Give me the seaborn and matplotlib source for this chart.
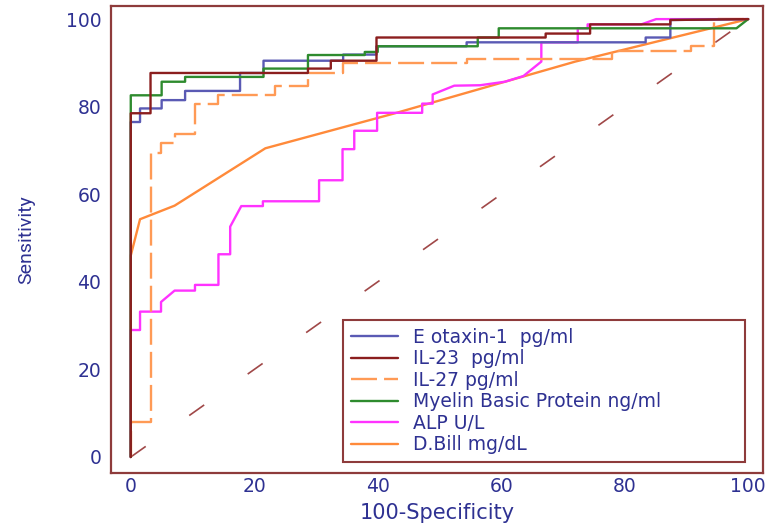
import matplotlib
matplotlib.use("Agg")
import matplotlib.pyplot as plt
from matplotlib.ticker import MultipleLocator
import seaborn as sns
import pandas as pd

# ---- data ----
eotaxin_x = [0, 0, 1.5, 1.5, 5.0, 5.0, 8.8, 8.8, 17.7, 17.7, 21.5, 21.5, 34.4, 34.4, 39.8, 39.8, 54.4, 54.4, 83.4, 83.4, 87.4, 87.4, 100]
eotaxin_y = [0, 76.5, 76.5, 79.6, 79.6, 81.5, 81.5, 83.6, 83.6, 87.7, 87.7, 90.5, 90.5, 91.9, 91.9, 93.8, 93.8, 94.7, 94.7, 95.8, 95.8, 99.8, 100]

il23_x = [0, 0, 3.2, 3.2, 28.7, 28.7, 32.4, 32.4, 39.8, 39.8, 67.2, 67.2, 74.4, 74.4, 87.4, 87.4, 100]
il23_y = [0, 78.5, 78.5, 87.7, 87.7, 88.7, 88.7, 90.5, 90.5, 95.8, 95.8, 96.7, 96.7, 98.8, 98.8, 99.8, 100]

il27_x = [0, 0, 3.3, 3.3, 4.9, 4.9, 7.2, 7.2, 10.4, 10.4, 14.2, 14.2, 23.4, 23.4, 28.7, 28.7, 34.4, 34.4, 54.4, 54.4, 77.9, 77.9, 90.7, 90.7, 94.5, 94.5, 100]
il27_y = [0, 8, 8, 69.4, 69.4, 71.7, 71.7, 73.7, 73.7, 80.6, 80.6, 82.6, 82.6, 84.7, 84.7, 87.8, 87.8, 89.9, 89.9, 90.8, 90.8, 92.7, 92.7, 93.8, 93.8, 100, 100]

mbp_x = [0, 0, 5.0, 5.0, 8.8, 8.8, 21.5, 21.5, 28.7, 28.7, 37.9, 37.9, 40.0, 40.0, 56.2, 56.2, 59.6, 59.6, 98.1, 100]
mbp_y = [0, 82.6, 82.6, 85.7, 85.7, 86.8, 86.8, 88.7, 88.7, 91.8, 91.8, 92.5, 92.5, 93.8, 93.8, 95.8, 95.8, 97.9, 97.9, 100]

alp_x = [0, 0, 1.5, 1.5, 4.9, 4.9, 7.1, 10.4, 10.4, 14.2, 14.2, 16.1, 16.1, 17.9, 21.4, 21.4, 30.5, 30.5, 34.3, 34.3,
         36.2, 36.2, 39.9, 39.9, 47.2, 47.2, 48.9, 48.9, 52.4, 56.6, 60.6, 63.6, 66.5, 66.5, 72.4, 72.4, 74.0, 74.0, 82.7, 85.1, 100]
alp_y = [0, 29, 29, 33.2, 33.2, 35.4, 38, 38, 39.3, 39.3, 46.3, 46.3, 52.6, 57.3, 57.3, 58.4, 58.4, 63.2, 63.2, 70.3,
         70.3, 74.5, 74.5, 78.6, 78.6, 80.7, 80.7, 82.8, 84.8, 84.9, 85.7, 87, 90.3, 94.7, 94.7, 97.9, 97.9, 98.8, 98.8, 100, 100]

dbill_x = [0, 0, 1.5, 7.1, 21.8, 42.8, 72.0, 100]
dbill_y = [0, 46, 54.3, 57.4, 70.5, 78.5, 90.3, 100]

diag_x = [0, 100]
diag_y = [0, 100]

labels = ["E otaxin-1  pg/ml", "IL-23  pg/ml", "IL-27 pg/ml", "Myelin Basic Protein ng/ml", "ALP U/L", "D.Bill mg/dL"]
x_ticks = [0, 20, 40, 60, 80, 100]
y_ticks = [0, 20, 40, 60, 80, 100]

# ---- style ----
sns.set_style("white")
plt.rcParams["font.family"] = ["DejaVu Sans"]

SPINE = "#8E3B3B"
TEXT = "#2E3192"
colors = {
    "eot": "#5A5AB4",
    "il23": "#8B1E1E",
    "il27": "#FF9A55",
    "mbp": "#2E8B2E",
    "alp": "#FF33FF",
    "dbill": "#FF8A3A",
}

fig = plt.figure(figsize=(7.72, 5.29), dpi=100)
ax = fig.add_axes([0.1438, 0.1059, 0.8445, 0.8828])

sns.lineplot(x=diag_x, y=diag_y, ax=ax, color="#A04848", lw=1.2, sort=False, estimator=None,
             linestyle=(0, (11, 32)))

series = [
    (dbill_x, dbill_y, colors["dbill"], labels[5], "-"),
    (alp_x, alp_y, colors["alp"], labels[4], "-"),
    (il27_x, il27_y, colors["il27"], labels[2], (0, (11, 3))),
    (eotaxin_x, eotaxin_y, colors["eot"], labels[0], "-"),
    (mbp_x, mbp_y, colors["mbp"], labels[3], "-"),
    (il23_x, il23_y, colors["il23"], labels[1], "-"),
]
for xs, ys, c, lab, ls in series:
    df = pd.DataFrame({"x": xs, "y": ys})
    sns.lineplot(data=df, x="x", y="y", ax=ax, color=c, lw=1.7, sort=False, estimator=None,
                 linestyle=ls, label=lab)

ax.set_xlim(-3.2, 102.4)
ax.set_ylim(-3.65, 103.0)
ax.set_xticks(x_ticks)
ax.set_yticks(y_ticks)
ax.xaxis.set_minor_locator(MultipleLocator(5))
ax.yaxis.set_minor_locator(MultipleLocator(5))

for s in ax.spines.values():
    s.set_color(SPINE)
    s.set_linewidth(1.6)

ax.tick_params(axis="y", which="major", direction="in", length=12.5, width=1.3, color=SPINE,
               labelsize=13.5, labelcolor=TEXT, pad=7)
ax.tick_params(axis="y", which="minor", direction="in", length=7, width=1.3, color=SPINE)
ax.tick_params(axis="x", which="major", direction="in", length=7.5, width=1.3, color=SPINE,
               labelsize=13.5, labelcolor=TEXT, pad=3)
ax.tick_params(axis="x", which="minor", direction="in", length=4.5, width=1.3, color=SPINE)

ax.set_xlabel("100-Specificity", fontsize=15, color=TEXT, labelpad=5)
ax.set_ylabel("Sensitivity", fontsize=14, color=TEXT, labelpad=22, family=["Roboto", "DejaVu Sans"])

# legend in the reference order
h, l = ax.get_legend_handles_labels()
order = [l.index(lab) for lab in labels]
leg = ax.legend([h[i] for i in order], [l[i] for i in order], loc="lower left",
                bbox_to_anchor=(0.356, 0.0236, 0.616, 0.3), mode="expand",
                fontsize=13.5, frameon=True, fancybox=False,
                edgecolor=SPINE, framealpha=1, handlelength=2.5, handletextpad=0.8,
                labelspacing=0.13, borderpad=0.42, borderaxespad=0)
leg.get_frame().set_linewidth(1.5)
for t in leg.get_texts():
    t.set_color(TEXT)

fig.savefig("out.png", dpi=100)
